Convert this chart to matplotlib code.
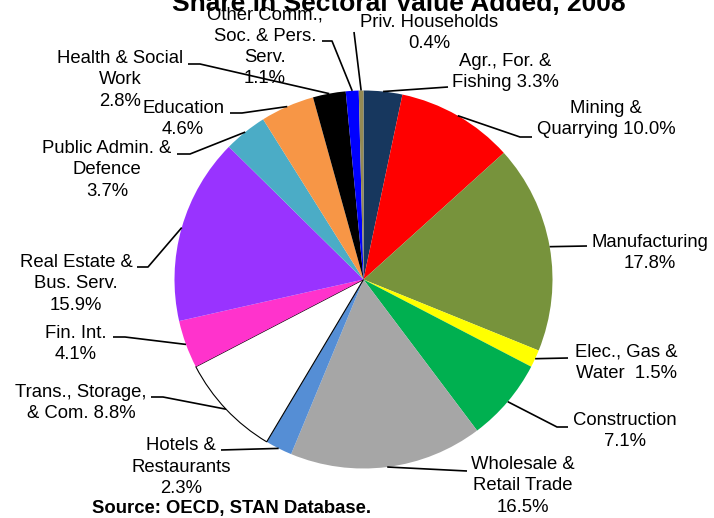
import matplotlib
matplotlib.use("Agg")
import matplotlib.pyplot as plt
import numpy as np

plt.rcParams['font.family'] = ['Liberation Sans', 'DejaVu Sans']

# sector shares, clockwise from the top
sectors = ["Agr., For. &\nFishing ", "Mining &\nQuarrying ", "Manufacturing\n",
           "Elec., Gas &\nWater  ", "Construction\n", "Wholesale &\nRetail Trade\n",
           "Hotels &\nRestaurants\n", "Trans., Storage,\n& Com. ", "Fin. Int.\n",
           "Real Estate &\nBus. Serv.\n", "Public Admin. &\nDefence\n", "Education\n",
           "Health & Social\nWork\n", "Other Comm.,\nSoc. & Pers.\nServ.\n",
           "Priv. Households\n"]
shares = [3.3, 10.0, 17.8, 1.5, 7.1, 16.5, 2.3, 8.8, 4.1, 15.9, 3.7, 4.6, 2.8, 1.1, 0.4]
colors = ["#17375E", "#FF0000", "#77933C", "#FFFF00", "#00B050", "#A6A6A6",
          "#558ED5", "#FFFFFF", "#FF33CC", "#9933FF", "#4BACC6", "#F79646",
          "#000000", "#0000FF", "#948A54"]

W, H = 714, 518

# label centres and leader line bends, in pixels from top-left
label_xy = [(505, 72), (606, 119), (650, 253), (626, 363), (625, 431),
            (523, 486), (181, 467), (81, 403), (76, 344), (76, 284),
            (107, 170), (183, 119), (120, 80), (265, 47), (429, 33)]
leaders = [[(448, 87)], [(520, 137), (532, 137)], [(587, 246)], [(568, 358)],
           [(557, 427), (568, 427)], [(467, 471)], [(221, 450)],
           [(163, 397), (151, 397)], [(125, 337), (113, 337)],
           [(148, 267), (137, 267)], [(190, 154), (177, 154)],
           [(242, 113), (230, 113)], [(200, 64), (188, 64)],
           [(332, 41), (322, 41)], [(354, 32)]]

fig = plt.figure(figsize=(W / 100, H / 100), dpi=100)
ax = fig.add_axes([0, 0, 1, 1])

cx, cy, r = 363.5, H - 279.5, 189
wedges, _ = ax.pie(shares, colors=colors, startangle=90, counterclock=False,
                   center=(cx, cy), radius=r,
                   wedgeprops=dict(linewidth=0))
# the white slice gets a thin outline
wedges[7].set_edgecolor("black")
wedges[7].set_linewidth(0.8)

for w, name, v, (tx, ty), pts in zip(wedges, sectors, shares, label_xy, leaders):
    ang = np.deg2rad((w.theta1 + w.theta2) / 2)
    xs = [cx + r * np.cos(ang)] + [p[0] for p in pts]
    ys = [cy + r * np.sin(ang)] + [H - p[1] for p in pts]
    ax.plot(xs, ys, color="black", lw=1.2, solid_capstyle="butt")
    ax.text(tx, H - ty, name + f"{v:.1f}%", ha="center", va="center",
            multialignment="center", fontsize=13.3, linespacing=1.32)

ax.text(399, H - 11, "Share in Sectoral Value Added, 2008", ha="center",
        va="baseline", fontsize=19, fontweight="bold")
ax.text(231, H - 508, "Source: OECD, STAN Database.", ha="center",
        va="center", fontsize=13.3, fontweight="bold")

ax.set_xlim(0, W)
ax.set_ylim(0, H)
ax.set_aspect("equal")
ax.axis("off")

fig.savefig("out.png", dpi=100)
